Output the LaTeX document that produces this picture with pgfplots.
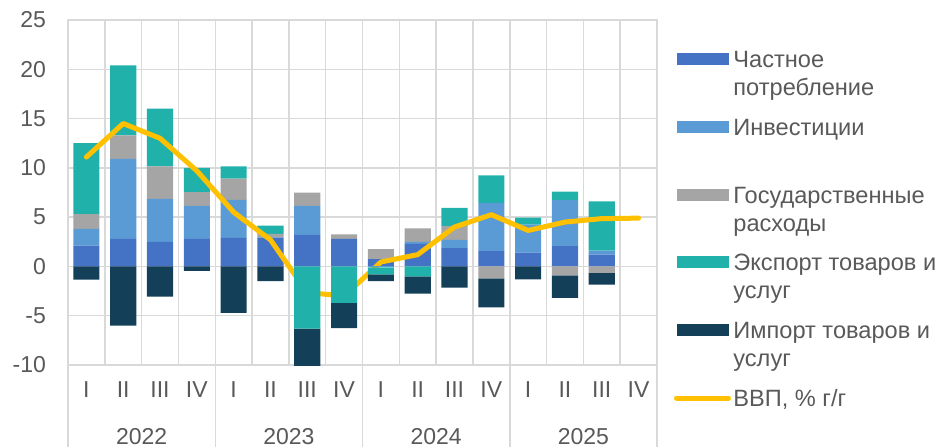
\documentclass[border=0pt]{standalone}
\usepackage{pgfplots}
\pgfplotsset{compat=1.18}
\usepackage{pgfplotstable}
\usepackage{fontspec}
\setmainfont{Liberation Sans}
\definecolor{cPC}{HTML}{4472C4}
\definecolor{cInv}{HTML}{5B9BD5}
\definecolor{cGov}{HTML}{A5A5A5}
\definecolor{cExp}{HTML}{20B2AA}
\definecolor{cImp}{HTML}{133F58}
\definecolor{cGDP}{HTML}{FFC000}
\definecolor{gridc}{HTML}{D9D9D9}
\definecolor{txt}{HTML}{595959}

% positive contributions
\pgfplotstableread{
x pc inv gov exp
0 2.1 1.7 1.5 7.2
1 2.8 8.1 2.4 7.1
2 2.5 4.35 3.3 5.85
3 2.8 3.35 1.4 2.45
4 2.9 3.85 2.15 1.25
5 2.9 0.05 0.35 0.85
6 3.2 2.95 1.35 0
7 2.8 0 0.45 0
8 0.75 0 1.0 0
9 2.3 0.2 1.35 0
10 1.85 0.85 1.4 1.85
11 1.55 4.9 0 2.8
12 1.4 2.85 0 0.7
13 2.05 4.7 0 0.85
14 1.2 0.4 0 5.0
}\posT

% negative contributions
\pgfplotstableread{
x pc inv gov exp imp
0 0 0 0 0 -1.35
1 0 0 0 0 -6.0
2 0 0 0 0 -3.05
3 0 0 0 0 -0.45
4 0 0 0 0 -4.7
5 0 0 0 0 -1.5
6 0 0 0 -6.3 -3.9
7 0 0 0 -3.7 -2.55
8 0 -0.1 0 -0.7 -0.7
9 0 0 0 -1.0 -1.75
10 0 0 0 0 -2.15
11 0 0 -1.2 0 -2.95
12 0 0 0 0 -1.3
13 0 0 -0.9 0 -2.3
14 0 0 -0.65 0 -1.2
}\negT

\pgfplotstableread{
x gdp
0 11.1
1 14.5
2 13.0
3 9.7
4 5.5
5 2.7
6 -2.65
7 -3.0
8 0.45
9 1.2
10 4.0
11 5.25
12 3.65
13 4.5
14 4.85
15 4.9
}\gdpT

\newcommand{\tf}{\fontsize{11.5}{14}\selectfont}
\newcommand{\lf}{\fontsize{11.8}{14}\selectfont}
\newcommand{\ent}[2]{\parbox[t]{120pt}{\raggedright\strut #1\\\strut #2}}

\begin{document}
\begin{tikzpicture}[font=\tf, text=txt]
\useasboundingbox (0,0) rectangle (471.5pt,223.5pt);
\begin{axis}[
  at={(34pt,41pt)}, anchor=south west, scale only axis,
  width=294.5pt, height=172.5pt,
  xmin=-0.5, xmax=15.5, ymin=-10, ymax=25,
  ybar stacked, bar width=0.71,
  xtick={0,...,15},
  xticklabels={I,II,III,IV,I,II,III,IV,I,II,III,IV,I,II,III,IV},
  minor xtick={-0.5,0.5,...,15.5},
  xminorgrids=true, ymajorgrids=true, xmajorgrids=false,
  ytick={-10,-5,0,5,10,15,20,25},
  yticklabels={-10,-5,0,5,10,15,20,25},
  grid style={gridc, line width=0.75pt},
  minor grid style={gridc, line width=0.75pt},
  axis line style={gridc, line width=0.75pt},
  major tick length=0pt, minor tick length=0pt,
  tick pos=left,
  tick label style={font=\tf, text=txt},
  xticklabel style={anchor=center, yshift=-12.5pt},
  yticklabel style={anchor=east, xshift=-7.5pt},
  extra x ticks={-0.5,3.5,7.5,11.5,15.5},
  extra x tick labels={},
  extra x tick style={major tick length=41pt, tick align=outside,
     tick style={gridc, line width=0.75pt}},
]
\addplot[fill=cPC, draw=none] table[x=x,y=pc]{\posT};
\addplot[fill=cInv, draw=none] table[x=x,y=inv]{\posT};
\addplot[fill=cGov, draw=none] table[x=x,y=gov]{\posT};
\addplot[fill=cExp, draw=none] table[x=x,y=exp]{\posT};
\end{axis}
\begin{axis}[
  at={(34pt,41pt)}, anchor=south west, scale only axis,
  width=294.5pt, height=172.5pt,
  xmin=-0.5, xmax=15.5, ymin=-10, ymax=25,
  ybar stacked, bar width=0.71,
  axis line style={draw=none},
  ytick=\empty,
  xtick={1.5,5.5,9.5,13.5},
  xticklabels={2022,2023,2024,2025},
  major tick length=0pt,
  tick label style={font=\tf, text=txt},
  xticklabel style={anchor=center, yshift=-36pt},
  legend style={draw=none, fill=none, at={(1,1)}, anchor=north west,
     xshift=8.5pt, yshift=-13.9pt, inner sep=0pt, outer sep=0pt,
     nodes={inner sep=0pt, font=\lf, text=txt}, column sep=1.2pt, row sep=22.6pt,
     cells={anchor=base west}},
  legend image code/.code={\fill[#1] (0pt,1.2pt) rectangle (26pt,7.2pt);},
]
\addplot[fill=cPC, draw=none] table[x=x,y=pc]{\negT};
\addlegendentry{\ent{Частное}{потребление}}
\addplot[fill=cInv, draw=none] table[x=x,y=inv]{\negT};
\addlegendentry{\ent{Инвестиции}{}}
\addplot[fill=cGov, draw=none] table[x=x,y=gov]{\negT};
\addlegendentry{\ent{Государственные}{расходы}}
\addplot[fill=cExp, draw=none] table[x=x,y=exp]{\negT};
\addlegendentry{\ent{Экспорт товаров и}{услуг}}
\addplot[fill=cImp, draw=none] table[x=x,y=imp]{\negT};
\addlegendentry{\ent{Импорт товаров и}{услуг}}
\addplot[sharp plot, stack plots=false, draw=cGDP, line width=2.5pt,
   line join=round, line cap=round, mark=none,
   legend image code/.code={\draw[cGDP, line width=2.5pt, line cap=round] (0pt,4.2pt) -- (26pt,4.2pt);}]
   table[x=x,y=gdp]{\gdpT};
\addlegendentry{\parbox[t]{120pt}{\strut ВВП, \% г/г}}
\end{axis}
\end{tikzpicture}
\end{document}
